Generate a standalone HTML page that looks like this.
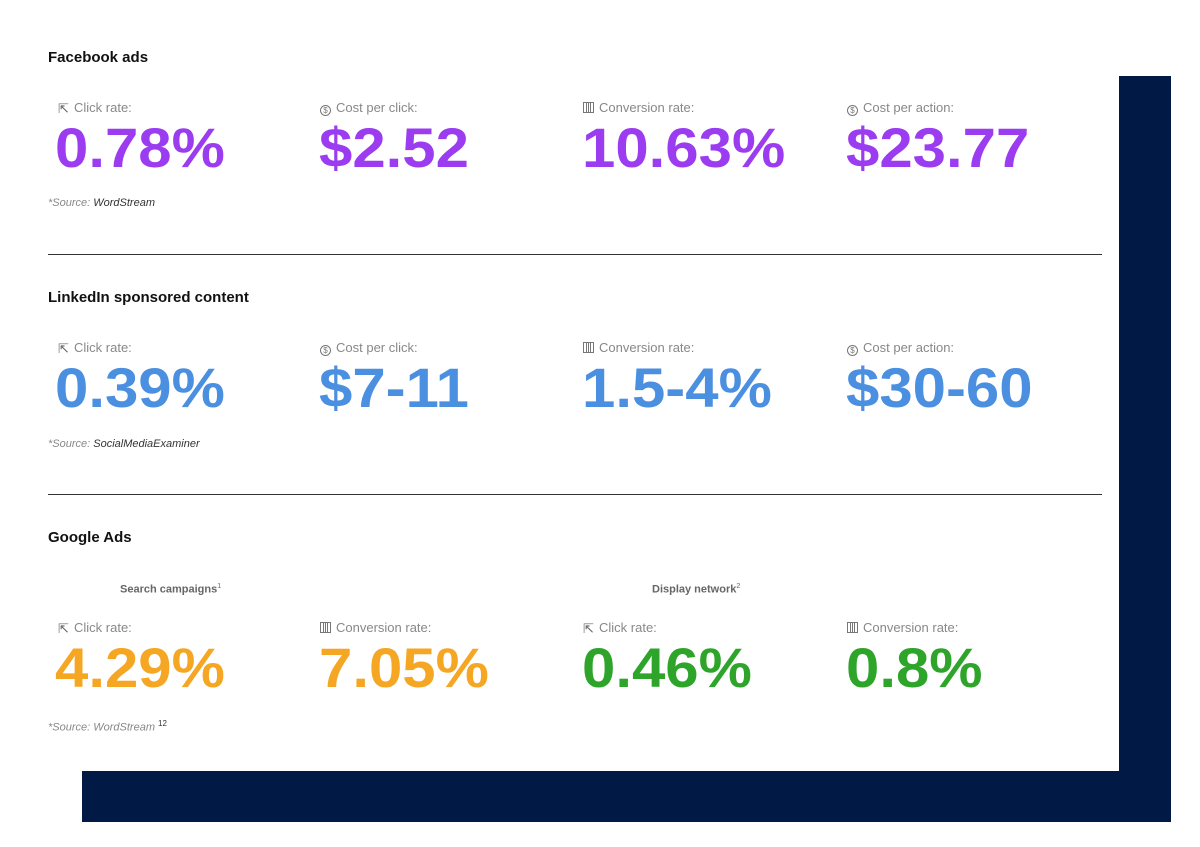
<!DOCTYPE html>
<html><head><meta charset="utf-8"><style>
body{margin:0;width:1200px;height:847px;background:#fff;position:relative;overflow:hidden;font-family:"Liberation Sans",sans-serif}
.a{position:absolute;white-space:nowrap}
.h{font-weight:bold;font-size:15px;color:#111;line-height:18px}
.l{font-size:13px;color:#888;line-height:16px}
.n{font-size:56px;line-height:56px;font-weight:bold;letter-spacing:0;transform:scaleX(1.07);transform-origin:0 0}
.s{font-size:11px;color:#888;font-style:italic;line-height:14px}
.s b{font-weight:normal;color:#333}
.sub{font-size:11px;color:#666;font-weight:bold;line-height:14px}
.hr{position:absolute;left:48px;width:1054px;height:1px;background:#333}
.p{color:#9b3cf0}.b{color:#4a8fe0}.o{color:#f5a623}.g{color:#2ea52a}
.ic{display:inline-block;width:11px;height:11px;margin-right:5px;vertical-align:-1px;box-sizing:border-box}
.cur{border:none;font-size:13px;color:#666}
.dol{border:1.2px solid #777;border-radius:50%;font-size:8px;line-height:9px;text-align:center;color:#777}
.bar{border:1.2px solid #777;background:linear-gradient(to right,transparent 2px,#777 2px,#777 3px,transparent 3px,transparent 4px,#777 4px,#777 5px,transparent 5px,transparent 6px,#777 6px,#777 7px,transparent 7px)}
</style></head><body>
<div style="position:absolute;left:1119px;top:76px;width:52px;height:746px;background:#011a45"></div>
<div style="position:absolute;left:82px;top:771px;width:1089px;height:51px;background:#011a45"></div>
<div style="position:absolute;left:0;top:0;width:1119px;height:771px;background:#fff"></div>

<div class="a h" style="left:48px;top:49px">Facebook ads</div>
<div class="a l" style="left:58px;top:100px"><span class="ic cur">⇱</span>Click rate:</div>
<div class="a l" style="left:320px;top:100px"><span class="ic dol">$</span>Cost per click:</div>
<div class="a l" style="left:583px;top:100px"><span class="ic bar"></span>Conversion rate:</div>
<div class="a l" style="left:847px;top:100px"><span class="ic dol">$</span>Cost per action:</div>
<div class="a n p" style="left:55px;top:120px">0.78%</div>
<div class="a n p" style="left:319px;top:120px">$2.52</div>
<div class="a n p" style="left:582px;top:120px">10.63%</div>
<div class="a n p" style="left:846px;top:120px">$23.77</div>
<div class="a s" style="left:48px;top:196px">*Source: <b>WordStream</b></div>
<div class="hr" style="top:254px"></div>

<div class="a h" style="left:48px;top:289px">LinkedIn sponsored content</div>
<div class="a l" style="left:58px;top:340px"><span class="ic cur">⇱</span>Click rate:</div>
<div class="a l" style="left:320px;top:340px"><span class="ic dol">$</span>Cost per click:</div>
<div class="a l" style="left:583px;top:340px"><span class="ic bar"></span>Conversion rate:</div>
<div class="a l" style="left:847px;top:340px"><span class="ic dol">$</span>Cost per action:</div>
<div class="a n b" style="left:55px;top:360px">0.39%</div>
<div class="a n b" style="left:319px;top:360px">$7-11</div>
<div class="a n b" style="left:582px;top:360px">1.5-4%</div>
<div class="a n b" style="left:846px;top:360px">$30-60</div>
<div class="a s" style="left:48px;top:437px">*Source: <b>SocialMediaExaminer</b></div>
<div class="hr" style="top:494px"></div>

<div class="a h" style="left:48px;top:529px">Google Ads</div>
<div class="a sub" style="left:120px;top:580px">Search campaigns<sup style="font-size:7px;font-weight:normal">1</sup></div>
<div class="a sub" style="left:652px;top:580px">Display network<sup style="font-size:7px;font-weight:normal">2</sup></div>
<div class="a l" style="left:58px;top:620px"><span class="ic cur">⇱</span>Click rate:</div>
<div class="a l" style="left:320px;top:620px"><span class="ic bar"></span>Conversion rate:</div>
<div class="a l" style="left:583px;top:620px"><span class="ic cur">⇱</span>Click rate:</div>
<div class="a l" style="left:847px;top:620px"><span class="ic bar"></span>Conversion rate:</div>
<div class="a n o" style="left:55px;top:640px">4.29%</div>
<div class="a n o" style="left:319px;top:640px">7.05%</div>
<div class="a n g" style="left:582px;top:640px">0.46%</div>
<div class="a n g" style="left:846px;top:640px">0.8%</div>
<div class="a s" style="left:48px;top:717px">*Source: WordStream <sup style="font-style:normal;font-size:8px;color:#333">12</sup></div>
</body></html>
